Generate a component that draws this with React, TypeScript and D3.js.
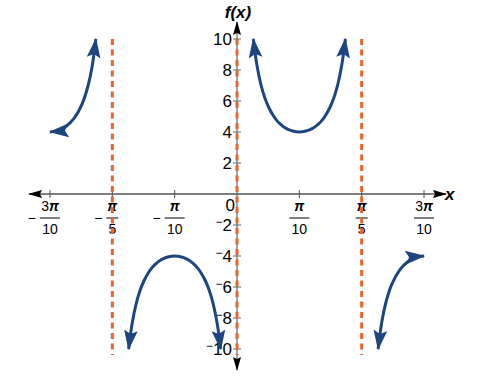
import React from 'react';
import * as d3 from 'd3';

// ---- data ----
const xTickValues = [-0.942, -0.628, -0.314, 0.314, 0.628, 0.942];
const xTickSign = ['−', '−', '−', '', '', ''];
const xTickCoef = ['3', '', '', '', '', '3'];
const xTickDen = ['10', '5', '10', '10', '5', '10'];
const yTickValues = [-10, -8, -6, -4, -2, 2, 4, 6, 8, 10];
const asymptotes = [-0.628, 0, 0.628];

const branch1X = [-0.942, -0.9, -0.86, -0.82, -0.78, -0.75, -0.73, -0.711];
const branch1Y = [4, 4.09, 4.37, 4.89, 5.82, 7.0, 8.21, 10];
const branch2X = [0.082, 0.1, 0.12, 0.14, 0.16, 0.18, 0.2, 0.22, 0.24, 0.26, 0.28, 0.314, 0.348, 0.368, 0.388, 0.408, 0.428, 0.448, 0.468, 0.488, 0.508, 0.528, 0.546];
const branch2Y = [10, 8.34, 7.08, 6.21, 5.58, 5.11, 4.75, 4.49, 4.29, 4.15, 4.06, 4, 4.06, 4.15, 4.29, 4.49, 4.75, 5.11, 5.58, 6.21, 7.08, 8.34, 10];
const branch3X = [-0.546, -0.528, -0.508, -0.488, -0.468, -0.448, -0.428, -0.408, -0.388, -0.368, -0.348, -0.314, -0.28, -0.26, -0.24, -0.22, -0.2, -0.18, -0.16, -0.14, -0.12, -0.1, -0.082];
const branch3Y = [-10, -8.34, -7.08, -6.21, -5.58, -5.11, -4.75, -4.49, -4.29, -4.15, -4.06, -4, -4.06, -4.15, -4.29, -4.49, -4.75, -5.11, -5.58, -6.21, -7.08, -8.34, -10];
const branch4X = [0.711, 0.73, 0.75, 0.78, 0.82, 0.86, 0.9, 0.942];
const branch4Y = [-10, -8.21, -7.0, -5.82, -4.89, -4.37, -4.09, -4];

const branches = [
  [branch1X, branch1Y],
  [branch2X, branch2Y],
  [branch3X, branch3Y],
  [branch4X, branch4Y],
];

const W = 487;
const H = 376;
const FONT = '"Liberation Sans", Arial, sans-serif';
const BLUE = '#1d4580';
const ORANGE = '#e8642c';

export default function App() {
  const x = d3.scaleLinear().domain([-0.942, 0.942]).range([50, 424]);
  const y = d3.scaleLinear().domain([-10, 10]).range([349, 39]);
  const x0 = x(0);
  const y0 = y(0);

  const line = d3
    .line<[number, number]>()
    .x((d) => x(d[0]))
    .y((d) => y(d[1]))
    .curve(d3.curveCatmullRom);

  return (
    <svg width={W} height={H} style={{ position: 'absolute', left: 0, top: 0, background: '#fff' }} fontFamily={FONT}>
      <defs>
        <marker id="blueArrow" markerUnits="userSpaceOnUse" markerWidth="20" markerHeight="20" viewBox="0 -7 16 14" refX="15" refY="0" orient="auto-start-reverse">
          <path d="M0,-5.5 L16,0 L0,5.5 L3,0 Z" fill={BLUE} />
        </marker>
        <marker id="blackArrow" markerUnits="userSpaceOnUse" markerWidth="14" markerHeight="10" viewBox="0 -5 14 10" refX="13" refY="0" orient="auto-start-reverse">
          <path d="M0,-4 L14,0 L0,4 L2,0 Z" fill="#000" />
        </marker>
      </defs>

      {/* x axis */}
      <line x1={29} x2={446} y1={y0} y2={y0} stroke="#000" strokeWidth={1.2} markerStart="url(#blackArrow)" markerEnd="url(#blackArrow)" />
      {xTickValues.map((v, i) => (
        <g key={'xt' + i} transform={`translate(${x(v)},0)`}>
          <line y1={y0 - 4} y2={y0 + 4} stroke="#555" strokeWidth={1} />
          {xTickSign[i] && (
            <text x={xTickDen[i] === '10' ? -14 : -10} y={y0 + 24} textAnchor="end" dominantBaseline="central" fontSize={14} fill="#000">
              {xTickSign[i]}
            </text>
          )}
          <text x={0} y={y0 + 17} textAnchor="middle" fontSize={14} fill="#000">
            {xTickCoef[i] && <tspan>{xTickCoef[i]}</tspan>}
            <tspan fontStyle="italic" fontWeight="bold">π</tspan>
          </text>
          <line x1={xTickDen[i] === '10' ? -10 : -6} x2={xTickDen[i] === '10' ? 10 : 6} y1={y0 + 24} y2={y0 + 24} stroke="#000" strokeWidth={1} />
          <text x={0} y={y0 + 40} textAnchor="middle" fontSize={14} fill="#000">
            {xTickDen[i]}
          </text>
        </g>
      ))}
      <text x={445} y={y0 + 6} fontSize={17} fontStyle="italic" fontWeight="bold" fill="#000">x</text>

      {/* y axis */}
      <line x1={x0} x2={x0} y1={22} y2={370} stroke="#666" strokeWidth={1.2} markerStart="url(#blackArrow)" markerEnd="url(#blackArrow)" />
      {yTickValues.map((v) => (
        <g key={'yt' + v}>
          <line x1={x0 - 4} x2={x0 + 4} y1={y(v)} y2={y(v)} stroke="#666" strokeWidth={1} />
          <text x={x0 - 5} y={y(v)} textAnchor="end" dominantBaseline="central" fontSize={17} fill="#000">
            {v < 0 ? (
              <>
                <tspan fontSize={12} dy={-3}>−</tspan>
                <tspan dy={3}>{Math.abs(v)}</tspan>
              </>
            ) : (
              String(v)
            )}
          </text>
        </g>
      ))}
      <text x={x0 - 2} y={y0 + 11} textAnchor="end" dominantBaseline="central" fontSize={17} fill="#000">0</text>
      <text x={x0 + 1} y={12} textAnchor="middle" dominantBaseline="central" fontSize={17} fontStyle="italic" fontWeight="bold" fill="#000">f(x)</text>

      {/* asymptotes */}
      {asymptotes.map((v, i) => (
        <line key={'as' + i} x1={x(v)} x2={x(v)} y1={39} y2={355} stroke={ORANGE} strokeWidth={3} strokeDasharray="6,4.5" />
      ))}

      {/* curves */}
      {branches.map(([bx, by], i) => (
        <path
          key={'b' + i}
          d={line(bx.map((v, j) => [v, by[j]] as [number, number])) || ''}
          fill="none"
          stroke={BLUE}
          strokeWidth={3}
          markerStart="url(#blueArrow)"
          markerEnd="url(#blueArrow)"
        />
      ))}
    </svg>
  );
}
